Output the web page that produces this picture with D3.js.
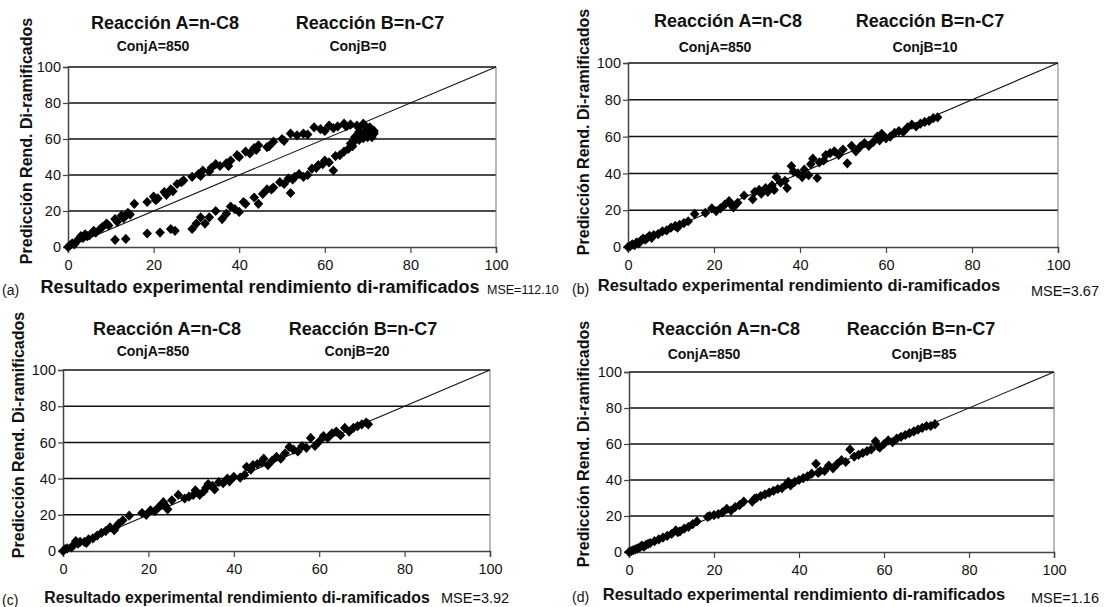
<!DOCTYPE html>
<html>
<head>
<meta charset="utf-8">
<script src="https://cdn.jsdelivr.net/npm/d3@7"></script>
<style>
  body { margin: 0; background: #fff; }
  svg text { font-family: "Liberation Sans", Arial, sans-serif; fill: #111; }
</style>
</head>
<body>
<div id="chart"></div>
<script>
// ---- data ----
const xTicks = [0, 20, 40, 60, 80, 100];
const yTicks = [0, 20, 40, 60, 80, 100];
const panelTags = ["(a)", "(b)", "(c)", "(d)"];
const conjA = ["850", "850", "850", "850"];
const conjB = ["0", "10", "20", "85"];
const mseValues = ["112.10", "3.67", "3.92", "1.16"];

// (a) ConjB=0 : two branches
const ptsA = [
  [0,0],[0.5,1],[1,2],[1.5,1.5],[2,3],[2.5,4.5],[3,6],[3.5,5],[4,7],[4.5,6],[5,6.5],[6,9],[6.5,8],[7.5,10],
  [8,11],[9,13],[9.5,12],[11,15.5],[11.5,14],[12.5,17.5],[13,16],[14,19],[14.5,18],[15.5,24],[18.5,25],
  [20,28],[20.5,26],[21,27],[22.5,30.5],[23,29],[24,32],[24.5,31],[25.5,35],[26.5,36],[27,37],[29,39],
  [30.5,40.5],[31,39.5],[31.5,42.5],[33,42],[33.5,44],[34.5,46],[35.5,45],[37,46.5],[37.5,45],[38,48],
  [39.5,51],[40,50],[41.5,53],[42.5,52],[43.5,55],[44,54],[44.5,56.5],[46.5,55.5],[47,56],[48,58.5],
  [50,60],[50.5,59],[52,63],[53.5,62],[55,63],[56,62.5],[57.5,66.5],[59,65.5],[60,64.5],[61,67.5],
  [62,66],[63,67],[64.5,68.5],[65,67],[66,68],[67.5,67.5],[68,66],[69,68.5],[69.5,67],[70.5,66.5],
  [71,65],[71.5,64.5],
  [11,4],[13.5,4.5],[18.5,7.5],[21.5,8],[24,10],[25,9],[29,10],[30,13],[31,16.5],[32,13],[33,16.5],
  [34.5,20],[36,15.5],[37,18.5],[38,22.5],[39,21],[40,19.5],[41,25],[41.5,24],[43.5,27.5],[44.5,24],
  [45.5,29.5],[46.5,32],[47.5,32],[48,33],[49.5,36],[50.5,35],[51.5,38],[52,30],[52.5,37.5],[53,39],
  [54,40.5],[55,39],[56,40],[57,43.5],[58,44],[58.5,45.5],[59.5,46],[60,48],[61,47],[62,42.5],
  [62.5,50.5],[63.5,51],[64.5,53],[65.5,54.5],[66,57.5],[66.5,56],[67,59],[67,61],[68,59.5],[68.5,62],
  [69,60.5],[69.5,64],[70,61],[70.5,62.5],[71,61],[71.5,63],[68,64],[70,65.5]
];

// (b) ConjB=10
const ptsB = [
  [0,0],[0.5,0.5],[1,1.5],[1.5,1],[2,2.5],[2.5,2],[3,3.5],[3.5,4.5],[4,4],[4.5,5],[5,6],[5.5,5],[6,6.5],
  [7,7],[8,8.5],[9,9],[10,10.5],[11,11.5],[11.5,10.5],[12,12],[13,13],[14,14],[15.5,18],[18,18.5],
  [19.5,21],[20.5,19.5],[21.5,21],[22.5,23],[23.5,25],[24,23],[24.5,21.5],[25.5,24],[27,28],[29,26],
  [29.5,30],[30.5,31],[31,29],[32,32],[32.5,30],[33.5,33.5],[34,31],[34.5,38],[35.5,35],[36.5,36],
  [37,32],[38,44],[38.5,41],[39.5,40],[40.5,38],[41,42],[42,39],[42.5,45],[43,48],[44,37.5],[44.5,46],
  [45.5,47],[46,50],[47,51],[48,52],[49,50],[50,53],[51,45.5],[52,55],[53,52],[54,54.5],[55,56.5],
  [56,55],[57,57],[58,60],[58.5,58],[59,61.5],[60,59],[61,60],[62,62],[63,63],[64,62.5],[65,65],
  [66,66.5],[67,65.5],[68,67],[69,68],[70,68.5],[71,70],[72,70.5]
];

// (c) ConjB=20
const ptsC = [
  [0,0],[0.5,1],[1,1.5],[2,2],[2.5,3.5],[3,5.5],[3.5,4],[4,5],[5,5],[5.5,4.5],[6,6.5],[7,7],[8,8.5],
  [9,10],[10,11],[11,13],[12,11.5],[12.5,13.5],[13,15],[14,17],[15.5,19.5],[18.5,21],[19.5,20],
  [20.5,22.5],[21.5,22],[22.5,24.5],[23.5,27],[24,25],[24.5,23],[25.5,28],[27,31],[28.5,29],[29.5,30],
  [30.5,31],[31,33.5],[32,31],[33,33],[33.5,35],[34,37],[35,36],[35.5,34],[36.5,38],[37.5,37.5],
  [38.5,40],[39,38.5],[40,41],[41.5,40.5],[42.5,42],[43,46.5],[44,45],[44.5,47.5],[45.5,48],[46.5,49],
  [47,51],[48,47.5],[49,50],[50,52],[51,51],[52,54],[53,57.5],[54,56],[55,55],[56,58],[57,57],
  [58,62.5],[59,58],[60,60.5],[61,63.5],[62,62.5],[63,65],[64,66],[65,64],[66,68],[67,66],[68,68],
  [69,69],[70,70],[71,71],[71.5,70]
];

// (d) ConjB=85
const ptsD = [
  [0,0],[0.5,0.5],[1,1],[1.5,1.5],[2,2],[2.5,2.5],[3,3.5],[3.5,3],[4,4],[4.5,4.5],[5,5],[6,6],[7,7],
  [8,8],[9,9],[10,10],[11,12],[11.5,11],[12,11.5],[13,13],[14,14],[15,15.5],[16,17],[18.5,19.5],
  [19,20],[20,20.5],[21,21],[22,22],[23,24],[24,23],[25,25],[26,26],[27,28],[29,28],[29.5,29.5],
  [30,30],[31,31],[32,32],[33,33],[34,34],[35,35],[36,35.5],[37,37.5],[37.5,39],[38,37],[39,39],
  [40,40],[41,41],[42,42],[43,43.5],[44,49],[44.5,44],[45,45],[46,45],[47,48],[48,46.5],[49,49],
  [50,51],[51,50],[52,57],[53,53],[54,54],[55,55],[56,56],[57,57],[58,61.5],[58.5,59],[59,58],
  [60,60],[61,62],[62,61],[63,63],[64,64],[65,65],[66,66],[67,67],[68,68],[69,69],[70,70],[71,70],
  [72,71]
];
const pointSets = [ptsA, ptsB, ptsC, ptsD];

// ---- layout of each panel (plot box, text anchors) ----
const layout = [
  { x0: 68,  x1: 496,  y0: 67,  y1: 247, t1x: 165, t2x: 370, tY: 29,  cAx: 153, cBx: 358, cY: 51,
    ylx: 28,  yly: 141, xlx: 260, xly: 293, xlfs: 18,   tagx: 2,   tagy: 295,
    msex: 487,  msey: 294, mseAnchor: "start", msefs: 12.5 },
  { x0: 628, x1: 1058, y0: 63,  y1: 247, t1x: 728, t2x: 930, tY: 27,  cAx: 715, cBx: 925, cY: 52,
    ylx: 585, yly: 132, xlx: 799, xly: 291, xlfs: 16.5, tagx: 572, tagy: 294,
    msex: 1099, msey: 296, mseAnchor: "end", msefs: 14.5 },
  { x0: 63,  x1: 490,  y0: 370, y1: 551, t1x: 167, t2x: 363, tY: 335, cAx: 153, cBx: 357, cY: 356,
    ylx: 20,  yly: 435, xlx: 237, xly: 603, xlfs: 15.8, tagx: 2,   tagy: 605,
    msex: 441,  msey: 603, mseAnchor: "start", msefs: 14.5 },
  { x0: 629, x1: 1054, y0: 372, y1: 552, t1x: 726, t2x: 921, tY: 335, cAx: 704, cBx: 924, cY: 359,
    ylx: 585, yly: 444, xlx: 804, xly: 600, xlfs: 16.5, tagx: 572, tagy: 602,
    msex: 1099, msey: 603, mseAnchor: "end", msefs: 14.5 }
];

const width = 1104, height = 607;
const svg = d3.select("#chart").append("svg")
  .attr("width", width).attr("height", height)
  .attr("viewBox", `0 0 ${width} ${height}`);

// Excel-style diamond marker
const diamond = "M0,-5.1L4.8,0L0,5.1L-4.8,0Z";

function drawPanel(i) {
  const L = layout[i];
  const x = d3.scaleLinear().domain([0, 100]).range([L.x0, L.x1]);
  const y = d3.scaleLinear().domain([0, 100]).range([L.y1, L.y0]);
  const g = svg.append("g").attr("class", "panel");

  // horizontal gridlines
  g.selectAll(".grid").data(yTicks.filter(v => v > 0)).enter()
    .append("line").attr("class", "grid")
    .attr("x1", x(0)).attr("x2", x(100))
    .attr("y1", d => y(d)).attr("y2", d => y(d))
    .attr("stroke", "#111").attr("stroke-width", 1.5);

  // right border
  g.append("line")
    .attr("x1", x(100)).attr("x2", x(100)).attr("y1", y(100)).attr("y2", y(0))
    .attr("stroke", "#777").attr("stroke-width", 1);

  // axes
  const xAxis = g.append("g").attr("transform", `translate(0,${y(0)})`)
    .call(d3.axisBottom(x).tickValues(xTicks).tickSize(6).tickPadding(7));
  const yAxis = g.append("g").attr("transform", `translate(${x(0)},0)`)
    .call(d3.axisLeft(y).tickValues(yTicks).tickSize(5).tickPadding(2));
  [xAxis, yAxis].forEach(a => {
    a.select(".domain").attr("stroke", "#444").attr("stroke-width", 1.5);
    a.selectAll(".tick line").attr("stroke", "#444").attr("stroke-width", 1.2);
    a.selectAll(".tick text").style("font-size", "14.5px").attr("fill", "#111")
      .style("font-family", '"Liberation Sans", Arial, sans-serif');
  });

  // y = x reference line
  g.append("line")
    .attr("x1", x(0)).attr("y1", y(0)).attr("x2", x(100)).attr("y2", y(100))
    .attr("stroke", "#111").attr("stroke-width", 1.1);

  // points
  g.selectAll(".pt").data(pointSets[i]).enter()
    .append("path").attr("class", "pt")
    .attr("d", diamond)
    .attr("transform", d => `translate(${x(d[0])},${y(d[1])})`)
    .attr("fill", "#000");

  // titles
  g.append("text").attr("x", L.t1x).attr("y", L.tY).attr("text-anchor", "middle")
    .style("font-size", "18px").style("font-weight", "bold").text("Reacción A=n-C8");
  g.append("text").attr("x", L.t2x).attr("y", L.tY).attr("text-anchor", "middle")
    .style("font-size", "18px").style("font-weight", "bold").text("Reacción B=n-C7");
  g.append("text").attr("x", L.cAx).attr("y", L.cY).attr("text-anchor", "middle")
    .style("font-size", "14px").style("font-weight", "bold").text("ConjA=" + conjA[i]);
  g.append("text").attr("x", L.cBx).attr("y", L.cY).attr("text-anchor", "middle")
    .style("font-size", "14px").style("font-weight", "bold").text("ConjB=" + conjB[i]);

  // axis titles
  g.append("text")
    .attr("transform", `translate(${L.ylx},${L.yly}) rotate(-90)`)
    .attr("text-anchor", "middle").attr("dominant-baseline", "middle")
    .style("font-size", "16px").style("font-weight", "bold")
    .text("Predicción Rend. Di-ramificados");
  g.append("text").attr("x", L.xlx).attr("y", L.xly).attr("text-anchor", "middle")
    .style("font-size", L.xlfs + "px").style("font-weight", "bold")
    .text("Resultado experimental rendimiento di-ramificados");

  // panel tag and MSE
  g.append("text").attr("x", L.tagx).attr("y", L.tagy)
    .style("font-size", "14px").attr("fill", "#333").text(panelTags[i]);
  g.append("text").attr("x", L.msex).attr("y", L.msey).attr("text-anchor", L.mseAnchor)
    .style("font-size", L.msefs + "px").attr("fill", "#333").text("MSE=" + mseValues[i]);
}

for (let i = 0; i < 4; i++) drawPanel(i);
</script>
</body>
</html>
